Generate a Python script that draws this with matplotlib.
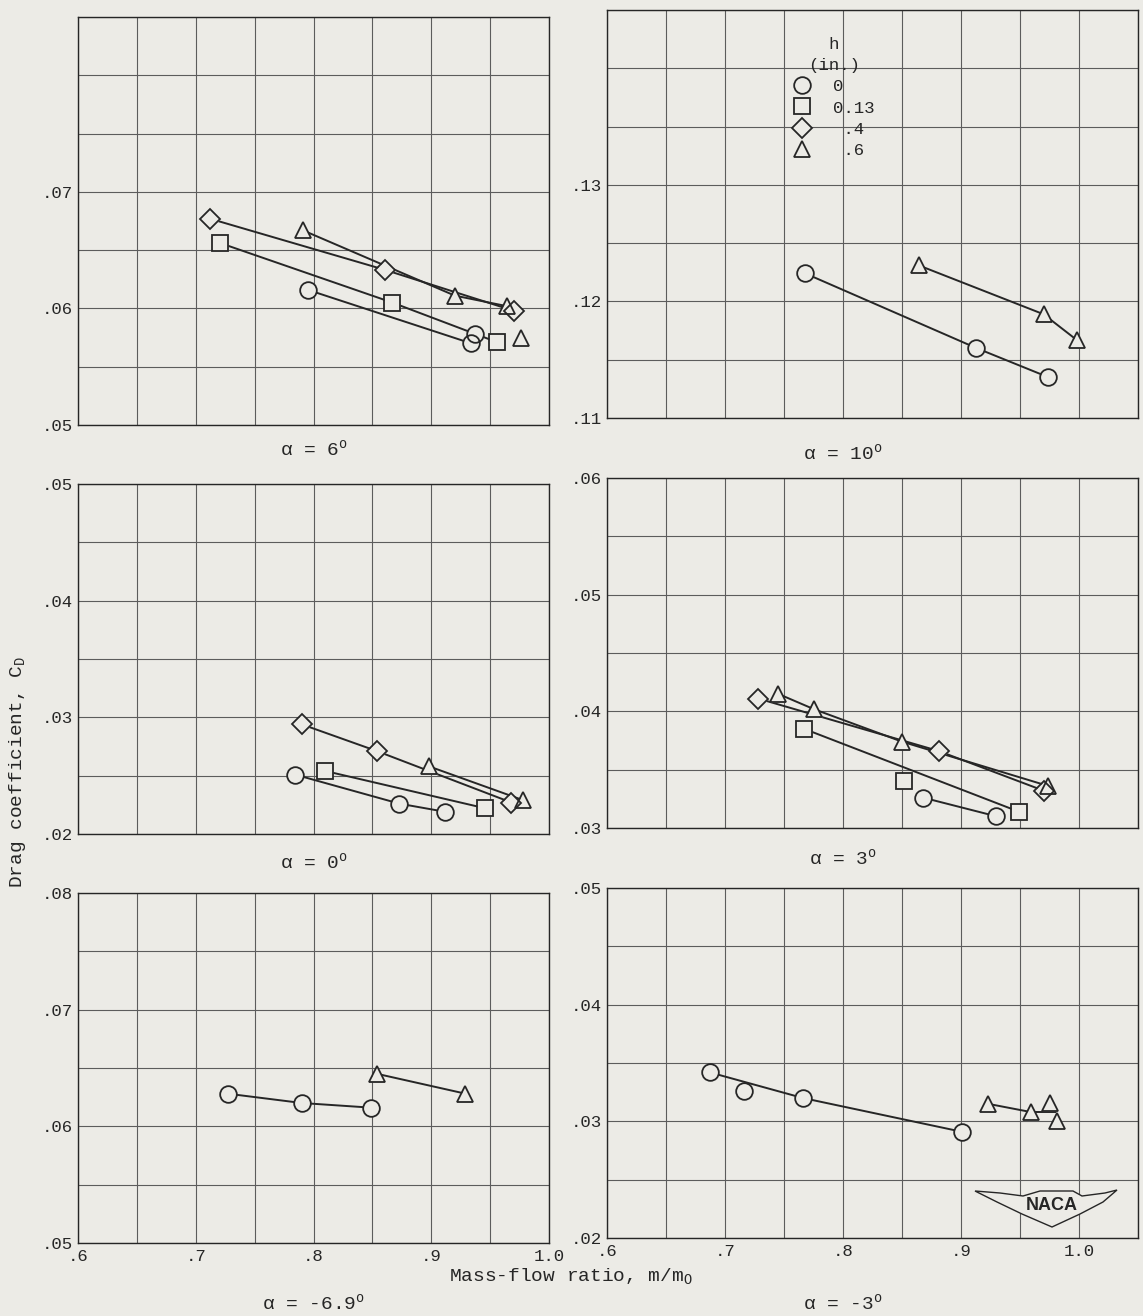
import numpy as np
import matplotlib
matplotlib.use("Agg")
import matplotlib.pyplot as plt
from matplotlib.ticker import FixedLocator, FuncFormatter, MultipleLocator
from matplotlib.lines import Line2D
from matplotlib.transforms import blended_transform_factory

plt.rcParams['font.family'] = ['Liberation Mono', 'DejaVu Sans']
plt.rcParams['mathtext.fontset'] = 'custom'
plt.rcParams['mathtext.rm'] = 'Liberation Mono'
plt.rcParams['mathtext.it'] = 'Liberation Mono'

PAPER = '#ecebe6'
INK = '#262626'
GRID = '#5c5c5c'

# Lip height h (in.) and the symbol used for each
h_labels = ['0', '0.13', ' .4', ' .6']
h_markers = ['o', 's', 'D', '^']

# ---- alpha = 6 deg ----
a6_o_x = [0.795, 0.937, 0.934]
a6_o_y = [0.0616, 0.0578, 0.0570]
a6_o_fair = [0, 2]
a6_s_x = [0.721, 0.867, 0.956]
a6_s_y = [0.0656, 0.0605, 0.0571]
a6_d_x = [0.712, 0.861, 0.970]
a6_d_y = [0.0677, 0.0633, 0.0598]
a6_t_x = [0.791, 0.920, 0.964, 0.976]
a6_t_y = [0.0667, 0.0611, 0.0602, 0.0575]
a6_t_fair = [0, 1, 2]

# ---- alpha = 10 deg ----
a10_o_x = [0.768, 0.913, 0.974]
a10_o_y = [0.1224, 0.1160, 0.1135]
a10_t_x = [0.864, 0.970, 0.998]
a10_t_y = [0.1231, 0.1189, 0.1167]

# ---- alpha = 0 deg ----
a0_o_x = [0.784, 0.873, 0.912]
a0_o_y = [0.0251, 0.0226, 0.0219]
a0_s_x = [0.810, 0.946]
a0_s_y = [0.0254, 0.0222]
a0_d_x = [0.790, 0.854, 0.968]
a0_d_y = [0.0294, 0.0271, 0.0227]
a0_t_x = [0.898, 0.978]
a0_t_y = [0.0258, 0.0229]

# ---- alpha = 3 deg ----
a3_o_x = [0.868, 0.930]
a3_o_y = [0.0326, 0.0310]
a3_s_x = [0.767, 0.852, 0.949]
a3_s_y = [0.0385, 0.0340, 0.0314]
a3_s_fair = [0, 2]
a3_d_x = [0.728, 0.881, 0.970]
a3_d_y = [0.0411, 0.0366, 0.0332]
a3_t_x = [0.745, 0.775, 0.850, 0.974]
a3_t_y = [0.0415, 0.0402, 0.0374, 0.0336]

# ---- alpha = -6.9 deg ----
am69_o_x = [0.727, 0.790, 0.849]
am69_o_y = [0.0628, 0.0620, 0.0616]
am69_t_x = [0.854, 0.929]
am69_t_y = [0.0645, 0.0628]

# ---- alpha = -3 deg ----
am3_o_x = [0.687, 0.716, 0.766, 0.901]
am3_o_y = [0.0342, 0.0326, 0.0320, 0.0291]
am3_o_fair = [0, 2, 3]
am3_t_x = [0.923, 0.959, 0.975, 0.981]
am3_t_y = [0.0315, 0.0308, 0.0316, 0.0300]
am3_t_fair_x = [0.923, 0.959, 0.980]
am3_t_fair_y = [0.0315, 0.0308, 0.0308]

# Labelled drag-coefficient ticks per panel
a6_yticks = [0.05, 0.06, 0.07]
a10_yticks = [0.11, 0.12, 0.13]
a0_yticks = [0.02, 0.03, 0.04, 0.05]
a3_yticks = [0.03, 0.04, 0.05, 0.06]
am69_yticks = [0.05, 0.06, 0.07, 0.08]
am3_yticks = [0.02, 0.03, 0.04, 0.05]
x_ticks = [0.6, 0.7, 0.8, 0.9, 1.0]

MS = {'o': 12.0, 's': 11.0, 'D': 10.5, '^': 12.0}
MEW = 1.3


def series(x, y, marker, fair=None, fair_xy=None):
    if fair_xy is not None:
        fx, fy = fair_xy
    elif fair is not None:
        fx = [x[i] for i in fair]
        fy = [y[i] for i in fair]
    else:
        fx, fy = x, y
    return dict(x=x, y=y, m=marker, fx=fx, fy=fy)


W, H = 1143, 1316
fig = plt.figure(figsize=(W / 100, H / 100), dpi=100, facecolor=PAPER)


def px_box(l, t, r, b):
    return [l / W, 1 - b / H, (r - l) / W, (b - t) / H]


panels = [
    dict(box=(78, 17, 549, 425), xlim=(0.6, 1.0), ylim=(0.05, 0.085),
         yt=a6_yticks, title='\u03b1 = 6', title_base=455, xlab=False,
         data=[series(a6_o_x, a6_o_y, 'o', fair=a6_o_fair),
               series(a6_s_x, a6_s_y, 's'),
               series(a6_d_x, a6_d_y, 'D'),
               series(a6_t_x, a6_t_y, '^', fair=a6_t_fair)]),
    dict(box=(607, 10, 1138, 418), xlim=(0.6, 1.05), ylim=(0.11, 0.145),
         yt=a10_yticks, title='\u03b1 = 10', title_base=459, xlab=False,
         data=[series(a10_o_x, a10_o_y, 'o'),
               series(a10_t_x, a10_t_y, '^')]),
    dict(box=(78, 484, 549, 834), xlim=(0.6, 1.0), ylim=(0.02, 0.05),
         yt=a0_yticks, title='\u03b1 = 0', title_base=868, xlab=False,
         data=[series(a0_o_x, a0_o_y, 'o'),
               series(a0_s_x, a0_s_y, 's'),
               series(a0_d_x, a0_d_y, 'D'),
               series(a0_t_x, a0_t_y, '^')]),
    dict(box=(607, 478, 1138, 828), xlim=(0.6, 1.05), ylim=(0.03, 0.06),
         yt=a3_yticks, title='\u03b1 = 3', title_base=864, xlab=False,
         data=[series(a3_o_x, a3_o_y, 'o'),
               series(a3_s_x, a3_s_y, 's', fair=a3_s_fair),
               series(a3_d_x, a3_d_y, 'D'),
               series(a3_t_x, a3_t_y, '^')]),
    dict(box=(78, 893, 549, 1243), xlim=(0.6, 1.0), ylim=(0.05, 0.08),
         yt=am69_yticks, title='\u03b1 = -6.9', title_base=1309, xlab=True,
         data=[series(am69_o_x, am69_o_y, 'o'),
               series(am69_t_x, am69_t_y, '^')]),
    dict(box=(607, 888, 1138, 1238), xlim=(0.6, 1.05), ylim=(0.02, 0.05),
         yt=am3_yticks, title='\u03b1 = -3', title_base=1309, xlab=True,
         data=[series(am3_o_x, am3_o_y, 'o', fair=am3_o_fair),
               series(am3_t_x, am3_t_y, '^', fair_xy=(am3_t_fair_x, am3_t_fair_y))]),
]


def yfmt(v, _):
    return f"{v:.2f}".replace("0.", ".", 1)


def xfmt(v, _):
    s = f"{v:.1f}"
    return s if v >= 0.95 else s.replace("0.", ".", 1)


axes = []
for p in panels:
    ax = fig.add_axes(px_box(*p['box']))
    ax.set_facecolor(PAPER)
    ax.set_xlim(p['xlim'])
    ax.set_ylim(p['ylim'])
    ax.xaxis.set_major_locator(FixedLocator(x_ticks))
    ax.xaxis.set_minor_locator(MultipleLocator(0.05))
    ax.yaxis.set_major_locator(FixedLocator(p['yt']))
    ax.yaxis.set_minor_locator(MultipleLocator(0.005))
    ax.yaxis.set_major_formatter(FuncFormatter(yfmt))
    ax.xaxis.set_major_formatter(FuncFormatter(xfmt))
    ax.grid(which='both', color=GRID, lw=0.8)
    ax.set_axisbelow(True)
    for sp in ax.spines.values():
        sp.set_color(INK)
        sp.set_linewidth(1.0)
    ax.tick_params(which='both', length=0, pad=4, labelsize=12.5, colors=INK)
    if not p['xlab']:
        ax.tick_params(axis='x', labelbottom=False)
    else:
        ax.tick_params(axis='x', pad=4)

    for s in p['data']:
        ax.plot(s['fx'], s['fy'], color=INK, lw=1.4, zorder=3)
        ax.plot(s['x'], s['y'], ls='none', marker=s['m'], ms=MS[s['m']],
                mfc=PAPER, mec='none', zorder=4)
        ax.plot(s['x'], s['y'], ls='none', marker=s['m'], ms=MS[s['m']],
                mfc='none', mec=INK, mew=MEW, zorder=5)

    # Angle of attack caption under each panel
    trans = blended_transform_factory(ax.transData, fig.transFigure)
    ax.text(0.8, 1 - p['title_base'] / H, p['title'] + r'$^{\mathrm{o}}$',
            transform=trans, ha='center', va='baseline', fontsize=14,
            color=INK)
    axes.append(ax)

# Symbol key in the alpha = 10 deg panel
handles = [Line2D([], [], ls='none', marker=m, ms=MS[m], mfc=PAPER,
                  mec=INK, mew=MEW) for m in h_markers]
leg = axes[1].legend(handles, h_labels, title='h\n(in.)', loc='upper left',
                     bbox_to_anchor=(0.35, 0.933), frameon=False,
                     prop={'family': 'Liberation Mono', 'size': 12.5},
                     title_fontproperties={'family': 'Liberation Mono',
                                           'size': 12.5},
                     handlelength=1.0, handletextpad=1.3, labelspacing=0.36,
                     borderpad=0, borderaxespad=0)
leg.get_title().set_multialignment('center')
leg.get_title().set_linespacing(1.45)
leg.get_title().set_color(INK)
for t in leg.get_texts():
    t.set_color(INK)

# Shared axis titles
fig.text(571 / W, 1 - 1276 / H, r'Mass-flow ratio, m/m$_{\mathrm{O}}$',
         ha='center', va='center', fontsize=14, color=INK)
fig.text(18 / W, 1 - 772 / H, r'Drag coefficient, C$_{\mathrm{D}}$',
         ha='center', va='center', rotation=90, fontsize=14, color=INK)

# NACA wing emblem in the lower-right panel
ax6 = axes[5]
l6, t6, r6, b6 = panels[5]['box']


def to_ax(px, py):
    return [(x - l6) / (r6 - l6) for x in px], [(b6 - y) / (b6 - t6) for y in py]


wing_px = [975, 1000, 1023, 1040, 1073, 1082, 1105, 1117,
           1103, 1080, 1052, 1022, 997, 975]
wing_py = [1191, 1193, 1196, 1191, 1191, 1196, 1193, 1190,
           1202, 1214, 1227, 1214, 1202, 1191]
wx, wy = to_ax(wing_px, wing_py)
ax6.fill(wx, wy, transform=ax6.transAxes, facecolor=PAPER, edgecolor=INK,
         lw=1.0, zorder=6)
cx, cy = to_ax([1052], [1206])
ax6.text(cx[0], cy[0], 'NACA', transform=ax6.transAxes, ha='center',
         va='center', fontsize=13, fontweight='bold',
         family=['Liberation Sans', 'DejaVu Sans'], color=INK, zorder=7)

fig.savefig('out.png', dpi=100, facecolor=PAPER)
